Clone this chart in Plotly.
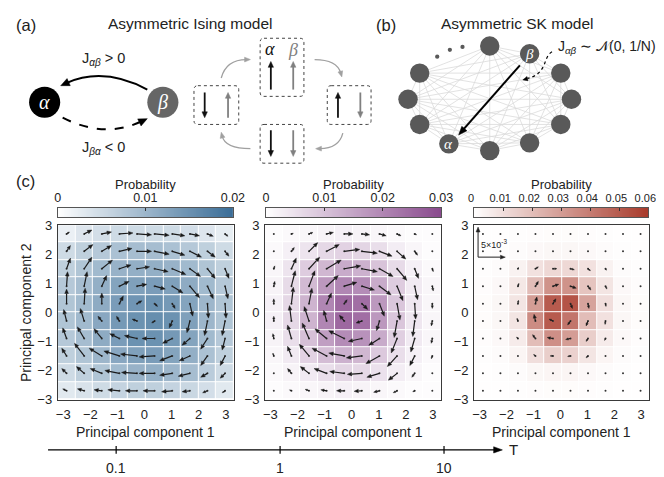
import math
import numpy as np
import plotly.graph_objects as go

W, H = 664, 477
FONT = "Liberation Sans, Arial, sans-serif"
SERIF = "Liberation Serif, DejaVu Serif, serif"

# ---------------- data ----------------
X_CENTERS = [-2.875, -2.225, -1.575, -0.925, -0.275, 0.375, 1.025, 1.675, 2.325, 2.975]
Y_CENTERS = [2.7, 2.1, 1.5, 0.9, 0.3, -0.3, -0.9, -1.5, -2.1, -2.7]
AX_TICKS = [-3, -2, -1, 0, 1, 2, 3]

# probability (x1e-3), rows top -> bottom
P1 = [
    [2.0, 3.5, 4.5, 5.0, 5.0, 5.0, 5.0, 4.5, 3.5, 2.5],
    [5.0, 6.5, 7.5, 8.5, 9.0, 9.0, 8.5, 7.5, 6.5, 5.0],
    [6.5, 8.0, 9.5, 10.5, 11.0, 11.0, 10.5, 9.5, 8.0, 6.5],
    [7.5, 9.0, 11.0, 12.5, 13.0, 13.5, 13.0, 11.5, 9.5, 7.5],
    [8.0, 9.5, 11.5, 13.5, 14.5, 15.0, 14.0, 12.5, 10.0, 8.0],
    [8.0, 9.5, 12.0, 14.0, 15.0, 15.5, 15.0, 13.0, 10.0, 8.0],
    [7.5, 9.0, 11.5, 13.5, 15.0, 15.0, 14.0, 12.5, 9.5, 7.5],
    [6.5, 8.0, 10.0, 12.0, 13.0, 13.5, 12.5, 11.0, 8.5, 6.5],
    [5.0, 6.5, 8.0, 9.5, 10.5, 11.0, 10.0, 9.0, 7.0, 5.0],
    [3.0, 4.0, 5.0, 6.0, 6.5, 6.5, 6.0, 5.5, 4.5, 3.0],
]
P2 = [
    [0.5, 1.0, 1.5, 2.0, 2.5, 2.0, 1.5, 1.0, 0.5, 0.5],
    [1.0, 2.5, 4.5, 6.5, 7.5, 7.0, 5.5, 3.0, 1.5, 0.5],
    [1.5, 4.5, 8.5, 12.0, 14.0, 13.0, 10.0, 6.0, 2.5, 1.0],
    [2.0, 6.0, 11.5, 17.0, 20.0, 19.0, 14.0, 8.5, 3.5, 1.5],
    [2.5, 6.5, 12.5, 20.0, 25.0, 24.0, 17.0, 9.5, 4.0, 1.5],
    [2.5, 6.5, 12.5, 20.0, 25.0, 24.0, 17.0, 9.5, 4.0, 1.5],
    [2.0, 5.5, 10.5, 16.0, 19.0, 18.0, 14.0, 8.0, 3.5, 1.5],
    [1.5, 3.5, 7.5, 11.0, 13.0, 12.0, 9.0, 5.5, 2.5, 1.0],
    [1.0, 2.0, 3.5, 5.5, 7.0, 6.5, 5.0, 3.0, 1.5, 0.5],
    [0.5, 1.0, 1.5, 2.0, 2.5, 2.0, 1.5, 1.0, 0.5, 0.5],
]
P3 = [
    [0.2, 0.3, 0.5, 0.8, 1.0, 1.0, 0.8, 0.5, 0.3, 0.2],
    [0.3, 0.6, 1.2, 2.0, 2.5, 2.5, 2.0, 1.2, 0.6, 0.3],
    [0.5, 1.2, 4.0, 9.0, 12.0, 12.0, 9.0, 4.0, 1.2, 0.5],
    [0.8, 2.0, 7.0, 20.0, 33.0, 33.0, 18.0, 8.0, 2.0, 0.8],
    [1.0, 2.5, 8.0, 30.0, 50.0, 52.0, 28.0, 10.0, 2.5, 1.0],
    [1.0, 2.5, 8.0, 35.0, 50.0, 42.0, 20.0, 9.0, 2.5, 1.0],
    [0.8, 2.0, 6.0, 20.0, 34.0, 30.0, 15.0, 6.0, 2.0, 0.8],
    [0.5, 1.2, 3.0, 10.0, 15.0, 14.0, 8.0, 3.0, 1.2, 0.5],
    [0.3, 0.6, 1.2, 2.5, 3.0, 3.0, 2.0, 1.2, 0.6, 0.3],
    [0.2, 0.3, 0.5, 0.8, 1.0, 1.0, 0.8, 0.5, 0.3, 0.2],
]

# probability flux (arbitrary units, +y up), rows top -> bottom
U1 = [
    [3, 8, 10, 14, 15, 15, 13, 10, 6, 3],
    [4, 9, 10, 13, 15, 15, 13, 12, 8, 4],
    [4, 8, 11, 12, 13, 14, 14, 11, 8, 4],
    [1, 3, 5, 10, 10, 11, 11, 10, 6, 3],
    [0, 1, 0, 4, 5, 3, 3, 3, 1, 1],
    [-3, -4, -4, -3, -5, -3, -3, -3, -3, -3],
    [-4, -7, -8, -10, -13, -13, -10, -8, -7, -3],
    [-5, -10, -13, -16, -17, -16, -13, -11, -7, -5],
    [-5, -8, -12, -15, -16, -16, -13, -12, -7, -5],
    [-4, -7, -8, -12, -12, -12, -11, -8, -5, -3],
]
V1 = [
    [2, 4, 2, 1, -1, -1.5, -2, -2, -2.5, -2.5],
    [6, 7, 6, 3, 0, -3, -4, -6, -6, -5],
    [11, 12, 9, 4, 2, -3, -6, -8, -10, -10],
    [15, 15, 11, 5, 2, -3, -7, -12, -13, -13],
    [15, 16, 11, 8, 3, -3, -5, -13, -15, -15],
    [12, 13, 5, 5, 2, -2, -7, -12, -15, -15],
    [11, 12, 10, 5, 3, 0, -5, -7, -11, -12],
    [8, 13, 8, 5, 2, -1, -5, -5, -10, -10],
    [5, 7, 5, 3, 1, 0, -2, -3, -4, -5],
    [2, 2, 1, 1, 0, 0, -1, -1, -2, -2],
]
U2 = [
    [0, 2, 4, 7, 9, 8, 7, 4, 2, 0],
    [0.5, 3, 9, 13, 16, 16, 13, 9, 3, 0.5],
    [1, 5, 11, 15, 17, 16, 14, 10, 4, 1],
    [1, 4, 6, 12, 13, 13, 12, 6, 3, 1],
    [0, 2, 3, 5, 3, 6, 5, 3, 1, 0],
    [0, -2, -5, -3, -5, -6, -3, -3, -2, -1],
    [-1, -4, -7, -12, -16, -14, -11, -6, -4, -1],
    [-1, -4, -10, -15, -16, -16, -14, -10, -5, -1],
    [-0.5, -4, -9, -13, -15, -15, -13, -9, -3, -0.5],
    [0, -2, -4, -6, -8, -8, -6, -4, -2, 0],
]
V2 = [
    [0, 0.5, 1.5, 1.5, 0, -1, -2, -2, -1, 0],
    [1, 4, 9, 7, 2, -2, -5, -8, -4, -1],
    [3, 11, 12, 9, 3, -3, -8, -12, -10, -3],
    [5, 16, 16, 11, 4, -4, -9, -15, -14, -5],
    [5, 17, 16, 11, 4, -6, -13, -17, -16, -5],
    [5, 16, 15, 11, 6, -2, -10, -17, -16, -5],
    [5, 14, 16, 10, 8, -3, -7, -15, -14, -5],
    [3, 10, 12, 8, 3, -2, -8, -11, -10, -3],
    [1, 5, 7, 5, 2, -1, -4, -7, -4, -1],
    [0, 1, 1.5, 1, 0, -0.5, -1.5, -2, -1, 0],
]
U3 = [
    [0, 0, 0, 0, 0, 0, 0, 0, 0, 0],
    [0, 0, 0.5, 1, 1, 1, 1, 0.5, 0, 0],
    [0, 0.3, 1, 3, 4, 4, 2.5, 1, 0.3, 0],
    [0, 0.5, 1, 3, 6, 6, 3, 1.5, 0.5, 0],
    [0, 0.3, 0.5, 1.5, 3, 2, 1, 0.5, 0.3, 0],
    [0, -0.3, -1, -1.5, -4, -3, -2, -0.5, -0.3, 0],
    [0, -0.5, -1.5, -3, -6, -5, -2, -1, -0.5, 0],
    [0, 0, -1, -2, -3, -3, -2, -0.5, 0, 0],
    [0, 0, -0.3, -1, -1, -1, -0.5, 0, 0, 0],
    [0, 0, 0, 0, 0, 0, 0, 0, 0, 0],
]
V3 = [
    [0, 0, 0, 0, 0, 0, 0, 0, 0, 0],
    [0, 0, 0.5, 0.5, 0, 0, -0.5, -0.5, 0, 0],
    [0, 0.3, 1.5, 2, 0, -1, -2, -1.5, -0.3, 0],
    [0, 0.5, 3, 5, 2, -2, -4, -3, -0.5, 0],
    [0, 1, 3.5, 7, 5, -5, -5, -3, -1, 0],
    [0, 1, 3, 7, 2, -4, -5, -3.5, -1, 0],
    [0, 0.5, 1.5, 4, 1, -1, -3, -2, -0.5, 0],
    [0, 0, 0.5, 1.5, 0, -0.5, -2, -1, 0, 0],
    [0, 0, 0, 0.5, 0, 0, -0.5, 0, 0, 0],
    [0, 0, 0, 0, 0, 0, 0, 0, 0, 0],
]

CB_MAX = [0.02, 0.03, 0.06]
CB_TICKS = [[0, 0.01, 0.02], [0, 0.01, 0.02, 0.03], [0, 0.01, 0.02, 0.03, 0.04, 0.05, 0.06]]
CB_TEXT = [["0", "0.01", "0.02"], ["0", "0.01", "0.02", "0.03"],
           ["0", "0.01", "0.02", "0.03", "0.04", "0.05", "0.06"]]
CB_FONT = [12.5, 12.5, 11]
CB_SHIFT = [0, 0, -3]
COLORS = ["#3a6d97", "#894a8d", "#a83a2b"]
T_VALUES = [0.1, 1, 10]
T_LABELS = ["0.1", "1", "10"]
SCALE_LABEL = "5×10<sup>-3</sup>"

# ---------------- layout geometry (pixels) ----------------
PANEL_X = [(45, 226), (258, 439), (473, 653)]
CB_X = [(45, 225), (259, 439), (473, 652)]
PANEL_Y = (217, 397)
CB_Y = (199, 209)
XR = [-3.2, 3.3]
YR = [-3, 3]


def fx(px):
    return px / W


def fy(py):
    return 1 - py / H


fig = go.Figure()
layout = dict(width=W, height=H, margin=dict(l=0, r=0, t=0, b=0),
              paper_bgcolor="white", plot_bgcolor="rgba(0,0,0,0)",
              showlegend=False, font=dict(family=FONT, color="#222"))

PS = [P1, P2, P3]
US = [U1, U2, U3]
VS = [V1, V2, V3]
ann = []

for k in range(3):
    xa = "x%d" % (k + 1) if k else "x"
    ya = "y%d" % (k + 1) if k else "y"
    z = (np.array(PS[k]) * 1e-3).tolist()
    cs = [[0, "#ffffff"], [1, COLORS[k]]]
    fig.add_trace(go.Heatmap(z=z, x=X_CENTERS, y=Y_CENTERS, zmin=0, zmax=CB_MAX[k],
                             colorscale=cs, showscale=False, xgap=1, ygap=1,
                             xaxis=xa, yaxis=ya, hoverinfo="skip"))
    # quiver
    x0p, x1p = PANEL_X[k]
    sx = (x1p - x0p) / (XR[1] - XR[0])
    sy = (PANEL_Y[1] - PANEL_Y[0]) / (YR[1] - YR[0])
    lx, ly, hx, hy, dxs, dys = [], [], [], [], [], []
    for r in range(10):
        for c in range(10):
            xc, yc = X_CENTERS[c], Y_CENTERS[r]
            dxs.append(xc)
            dys.append(yc)
            du, dv = US[k][r][c], VS[k][r][c]
            L = math.hypot(du, dv)
            if L < 1.2:
                continue
            ux, uy = du / L, dv / L
            hl = min(4.6, 0.55 * L)
            hw = hl * 0.42
            base = L - hl
            lx += [xc, xc + ux * base / sx, None]
            ly += [yc, yc + uy * base / sy, None]
            bx, by = xc + ux * base / sx, yc + uy * base / sy
            tx, ty = xc + du / sx, yc + dv / sy
            px_, py_ = -uy * hw / sx, ux * hw / sy
            hx += [tx, bx + px_, bx - px_, tx, None]
            hy += [ty, by + py_, by - py_, ty, None]
    fig.add_trace(go.Scatter(x=dxs, y=dys, mode="markers", xaxis=xa, yaxis=ya,
                             marker=dict(size=2, color="#333"), hoverinfo="skip"))
    fig.add_trace(go.Scatter(x=lx, y=ly, mode="lines", xaxis=xa, yaxis=ya,
                             line=dict(color="#1a1a1a", width=1.2), hoverinfo="skip"))
    fig.add_trace(go.Scatter(x=hx, y=hy, mode="lines", fill="toself", fillcolor="#1a1a1a",
                             xaxis=xa, yaxis=ya, line=dict(color="#1a1a1a", width=0.4),
                             hoverinfo="skip"))
    axn = "xaxis%d" % (k + 1) if k else "xaxis"
    ayn = "yaxis%d" % (k + 1) if k else "yaxis"
    layout[axn] = dict(domain=[fx(x0p), fx(x1p)], range=XR, anchor=ya,
                       tickvals=AX_TICKS, ticks="outside", ticklen=3, tickcolor="rgba(0,0,0,0)",
                       showline=True, mirror=True, linecolor="#3a3a3a", linewidth=1,
                       showgrid=False, zeroline=False, tickfont=dict(size=13, color="#222"))
    layout[ayn] = dict(domain=[fy(PANEL_Y[1]), fy(PANEL_Y[0])], range=YR, anchor=xa,
                       tickvals=AX_TICKS, ticks="outside", ticklen=2, tickcolor="rgba(0,0,0,0)",
                       showline=True, mirror=True, linecolor="#3a3a3a", linewidth=1,
                       showgrid=False, zeroline=False, tickfont=dict(size=13, color="#222"))
    # colorbar as its own axis
    cbv = np.linspace(0, CB_MAX[k], 200)
    cx, cy = "x%d" % (k + 4), "y%d" % (k + 4)
    fig.add_trace(go.Heatmap(z=[cbv.tolist()], x=cbv.tolist(), y=[0], zmin=0, zmax=CB_MAX[k],
                             colorscale=cs, showscale=False, xaxis=cx, yaxis=cy,
                             hoverinfo="skip"))
    layout["xaxis%d" % (k + 4)] = dict(domain=[fx(CB_X[k][0]), fx(CB_X[k][1])],
                                       range=[0, CB_MAX[k]], anchor=cy, side="top",
                                       tickvals=CB_TICKS[k], ticktext=CB_TEXT[k],
                                       ticks="inside", ticklen=3, tickcolor="#333",
                                       ticklabeloverflow="allow", ticklabelshift=CB_SHIFT[k],
                                       showline=True, mirror=True, linecolor="#555",
                                       showgrid=False, zeroline=False,
                                       tickfont=dict(size=CB_FONT[k], color="#222"))
    layout["yaxis%d" % (k + 4)] = dict(domain=[fy(CB_Y[1]), fy(CB_Y[0])], range=[-0.5, 0.5],
                                       anchor=cx, showticklabels=False, ticks="",
                                       showline=True, mirror=True, linecolor="#555",
                                       showgrid=False, zeroline=False)
    cxm = (CB_X[k][0] + CB_X[k][1]) / 2
    ann.append(dict(x=cxm, y=175, text="Probability", font=dict(size=13)))
    ann.append(dict(x=(x0p + x1p) / 2, y=431, text="Principal component 1", font=dict(size=14)))

# overlay pixel axis for diagrams
fig.add_trace(go.Scatter(x=[0], y=[0], mode="markers", marker=dict(size=1, color="rgba(0,0,0,0)"),
                         xaxis="x7", yaxis="y7", hoverinfo="skip"))
layout["xaxis7"] = dict(domain=[0, 1], range=[0, W], visible=False, anchor="y7")
layout["yaxis7"] = dict(domain=[0, 1], range=[H, 0], visible=False, anchor="x7")

shapes = []
REF = dict(xref="x7", yref="y7")


def sline(x0, y0, x1, y1, color, width, dash="solid"):
    shapes.append(dict(type="line", x0=x0, y0=y0, x1=x1, y1=y1,
                       line=dict(color=color, width=width, dash=dash), **REF))


def spath(path, color, width, dash="solid", fill=None):
    d = dict(type="path", path=path, line=dict(color=color, width=width, dash=dash), **REF)
    if fill:
        d["fillcolor"] = fill
    shapes.append(d)


def head(tx, ty, dx, dy, hl, hw, color):
    n = math.hypot(dx, dy)
    ux, uy = dx / n, dy / n
    bx, by = tx - ux * hl, ty - uy * hl
    p = "M %.2f %.2f L %.2f %.2f L %.2f %.2f Z" % (
        tx, ty, bx - uy * hw / 2, by + ux * hw / 2, bx + uy * hw / 2, by - ux * hw / 2)
    spath(p, color, 0.5, fill=color)


def qarrow(s, c, e, color, width, hl, hw, dash="solid"):
    dx, dy = e[0] - c[0], e[1] - c[1]
    n = math.hypot(dx, dy)
    ee = (e[0] - dx / n * hl * 0.7, e[1] - dy / n * hl * 0.7)
    spath("M %.1f %.1f Q %.1f %.1f %.1f %.1f" % (s[0], s[1], c[0], c[1], ee[0], ee[1]),
          color, width, dash)
    head(e[0], e[1], dx, dy, hl, hw, color)


def varrow(x, y0, y1, color):
    d = 1 if y1 > y0 else -1
    sline(x, y0, x, y1 - d * 4, color, 1.8)
    head(x, y1, 0, d, 6, 5.5, color)


def circle(cx, cy, r, color):
    shapes.append(dict(type="circle", x0=cx - r, x1=cx + r, y0=cy - r, y1=cy + r,
                       fillcolor=color, line=dict(width=0), **REF))


def rbox(x0, y0, x1, y1, r=4):
    p = ("M %g %g L %g %g Q %g %g %g %g L %g %g Q %g %g %g %g L %g %g Q %g %g %g %g "
         "L %g %g Q %g %g %g %g Z") % (
        x0 + r, y0, x1 - r, y0, x1, y0, x1, y0 + r, x1, y1 - r, x1, y1, x1 - r, y1,
        x0 + r, y1, x0, y1, x0, y1 - r, x0, y0 + r, x0, y0, x0 + r, y0)
    spath(p, "#444", 1, dash="dot")


# ---- panel (a)
circle(31.5, 90, 16, "#000000")
circle(153, 90, 16, "#666666")
qarrow((137, 77), (92, 53), (48, 73), "#000", 2, 9, 8)
qarrow((50, 106), (93, 128), (137, 107), "#000", 2, 9, 8, dash="dash")

BOXES = [(185, 73, 231, 113), (253, 24, 298, 84), (322, 73, 367, 113), (253, 113, 298, 153)]
for b in BOXES:
    rbox(*b)
BLK, GRY = "#111111", "#808080"
varrow(196, 80, 106, BLK)
varrow(220, 106, 80, GRY)
varrow(264, 77, 48, BLK)
varrow(287, 77, 48, GRY)
varrow(333, 106, 80, BLK)
varrow(356, 80, 106, GRY)
varrow(264, 119, 146, BLK)
varrow(287, 119, 146, GRY)
CG = "#a0a0a0"
qarrow((213, 65), (218, 46), (243, 46), CG, 1.3, 6, 5)
qarrow((309, 46), (332, 46), (337, 64), CG, 1.3, 6, 5)
qarrow((338, 122), (334, 138), (310, 138), CG, 1.3, 6, 5)
qarrow((243, 138), (217, 138), (213, 121), CG, 1.3, 6, 5)

# ---- panel (b)
NODES = [(489, 32), (530, 40), (562, 60), (573, 87), (562, 113), (530, 132),
         (489, 140), (447, 133), (417, 113), (405, 87), (417, 60)]
ep = ""
for i in range(len(NODES)):
    for j in range(i + 1, len(NODES)):
        ep += "M %d %d L %d %d " % (NODES[i] + NODES[j])
spath(ep, "#dadada", 0.8)
for n in NODES:
    circle(n[0], n[1], 10, "#595959")
for d in [(435, 43), (448, 36), (461, 33)]:
    circle(d[0], d[1], 2.2, "#595959")
sline(520, 52, 462, 118, "#000", 2)
head(457, 124, -62, 71, 9, 7, "#000")
spath("M 553 38 C 543 44, 549 60, 528 65.5", "#000", 1.2, dash="dot")
head(523, 67, -23, 6, 5, 4.5, "#000")

# ---- T axis
sline(35, 449, 494, 449, "#000", 1.2)
head(502, 449, 1, 0, 9, 6.5, "#000")
for tv, tl in zip(T_VALUES, T_LABELS):
    tx = 105 + 168.5 * (math.log10(tv) + 1)
    sline(tx, 445, tx, 453, "#000", 1.2)
    ann.append(dict(x=tx, y=468, text=tl, font=dict(size=14)))
ann.append(dict(x=513, y=449, text="T", font=dict(size=15)))

# ---- scale bar in panel 3
sline(477, 250, 477, 224, "#222", 1)
head(477, 219, 0, -1, 5, 4, "#222")
sline(477, 250, 500, 250, "#222", 1)
head(505, 250, 1, 0, 5, 4, "#222")
ann.append(dict(x=493, y=236, text=SCALE_LABEL, font=dict(size=9)))

# ---- text
ann += [
    dict(x=12, y=10, text="(a)", font=dict(size=16.5)),
    dict(x=181, y=9, text="Asymmetric Ising model", font=dict(size=15.5)),
    dict(x=382, y=10, text="(b)", font=dict(size=16.5)),
    dict(x=517, y=9, text="Asymmetric SK model", font=dict(size=15.5)),
    dict(x=12, y=171, text="(c)", font=dict(size=16.5)),
    dict(x=31.5, y=90, text="<i>α</i>", font=dict(size=20, color="white", family=SERIF)),
    dict(x=153, y=90, text="<i>β</i>", font=dict(size=20, color="white", family=SERIF)),
    dict(x=92, y=45, text="J<sub><i>αβ</i></sub> &gt; 0", font=dict(size=14.5)),
    dict(x=92, y=137, text="J<sub><i>βα</i></sub> &lt; 0", font=dict(size=14.5)),
    dict(x=263, y=35, text="<i>α</i>", font=dict(size=18, color="#111", family=SERIF)),
    dict(x=287, y=36, text="<i>β</i>", font=dict(size=18, color="#808080", family=SERIF)),
    dict(x=530, y=40, text="<i>β</i>", font=dict(size=15, color="white", family=SERIF)),
    dict(x=447, y=133, text="<i>α</i>", font=dict(size=15, color="white", family=SERIF)),
    dict(x=557, y=33, text="J<sub><i>αβ</i></sub> ∼ 𝒩(0, 1/N)", font=dict(size=14),
         xanchor="left"),
    dict(x=13, y=307, text="Principal component 2", font=dict(size=14), textangle=-90),
]
for a in ann:
    a.setdefault("xanchor", "center")
    a.update(xref="x7", yref="y7", showarrow=False, yanchor="middle")

layout["shapes"] = shapes
layout["annotations"] = ann
fig.update_layout(**layout)
fig.write_html("out.html")
